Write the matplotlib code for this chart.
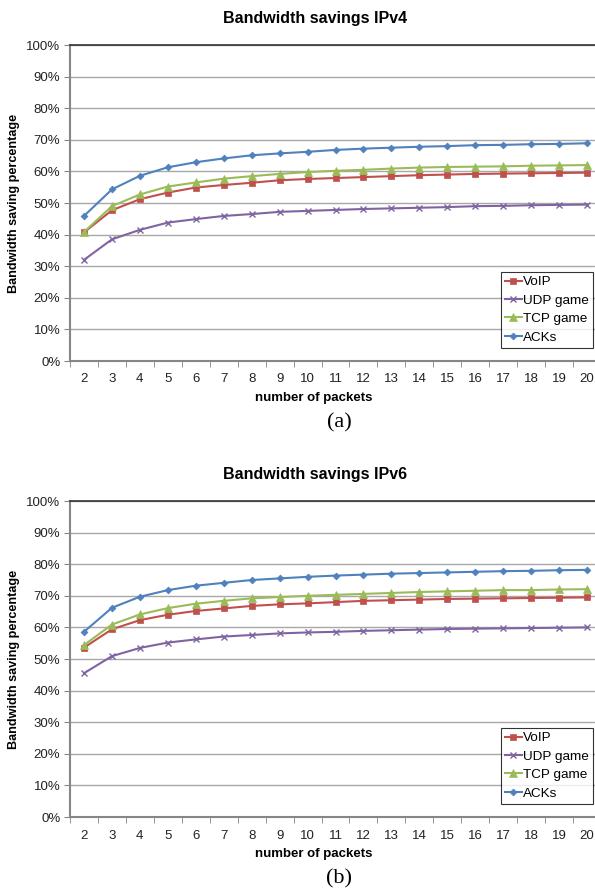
import matplotlib
matplotlib.use("Agg")
import matplotlib.pyplot as plt
from matplotlib.ticker import MultipleLocator, FixedLocator, PercentFormatter

packets = list(range(2, 21))

# IPv4 savings (%)
voip_v4 = [40.7, 47.7, 51.2, 53.3, 54.9, 55.7, 56.4, 57.2, 57.6, 57.9,
           58.2, 58.5, 58.8, 59.0, 59.2, 59.3, 59.4, 59.5, 59.6]
udp_v4 = [32.0, 38.5, 41.5, 43.8, 44.9, 45.9, 46.5, 47.2, 47.5, 47.8,
          48.1, 48.3, 48.5, 48.7, 49.0, 49.1, 49.3, 49.4, 49.5]
tcp_v4 = [40.8, 49.0, 52.7, 55.2, 56.5, 57.7, 58.5, 59.2, 59.8, 60.2,
          60.5, 60.9, 61.2, 61.4, 61.5, 61.6, 61.8, 61.9, 62.0]
acks_v4 = [45.9, 54.3, 58.6, 61.3, 62.9, 64.1, 65.1, 65.7, 66.2, 66.8,
           67.2, 67.5, 67.8, 68.0, 68.3, 68.4, 68.6, 68.7, 68.9]

# IPv6 savings (%)
voip_v6 = [53.6, 59.4, 62.3, 64.0, 65.2, 66.0, 66.8, 67.3, 67.6, 68.0,
           68.4, 68.6, 68.8, 69.0, 69.1, 69.2, 69.3, 69.4, 69.5]
udp_v6 = [45.5, 50.9, 53.5, 55.2, 56.2, 57.1, 57.6, 58.1, 58.4, 58.6,
          58.9, 59.1, 59.3, 59.5, 59.6, 59.7, 59.8, 59.9, 60.0]
tcp_v6 = [54.4, 60.9, 64.1, 66.1, 67.5, 68.4, 69.2, 69.6, 70.0, 70.3,
          70.6, 70.9, 71.2, 71.4, 71.6, 71.8, 71.8, 72.0, 72.1]
acks_v6 = [58.6, 66.2, 69.7, 71.8, 73.2, 74.1, 75.0, 75.5, 76.0, 76.4,
           76.7, 77.0, 77.2, 77.4, 77.6, 77.8, 77.9, 78.1, 78.2]

series_names = ["VoIP", "UDP game", "TCP game", "ACKs"]
colors = ["#C0504D", "#8064A2", "#9BBB59", "#4F81BD"]
markers = ["s", "x", "^", "D"]
msizes = [5, 5, 5.5, 3.5]

plt.rcParams["font.family"] = ["Liberation Sans", "DejaVu Sans"]

W, H = 595, 888
fig = plt.figure(figsize=(W / 100, H / 100), dpi=100)


def fx(px):
    return px / W


def fy(py):
    return 1 - py / H


def draw_panel(top_px, data, title, caption, legend_top):
    left, right = 70, 601
    bottom = top_px + 316
    ax = fig.add_axes([fx(left), fy(bottom), (right - left) / W, 316 / H])
    for vals, name, c, m, s in zip(data, series_names, colors, markers, msizes):
        ax.plot(packets, vals, color=c, marker=m, markersize=s, lw=1.5,
                label=name, markeredgewidth=1 if m == "x" else 0.5,
                markeredgecolor=c)
    ax.set_xlim(1.5, 20.5)
    ax.set_ylim(0, 100)
    ax.yaxis.set_major_locator(MultipleLocator(10))
    ax.yaxis.set_major_formatter(PercentFormatter(decimals=0))
    ax.set_xticks(packets)
    ax.xaxis.set_minor_locator(FixedLocator([p + 0.5 for p in [1] + packets]))
    ax.tick_params(axis="x", which="major", length=0, pad=9, labelsize=9.5,
                   colors="#222222")
    ax.tick_params(axis="x", which="minor", length=4, color="#868686",
                   direction="out")
    ax.tick_params(axis="y", length=4, color="#868686", labelsize=9.5,
                   labelcolor="#222222", pad=3)
    ax.grid(axis="y", color="#a8a8a8", lw=1)
    ax.set_axisbelow(True)
    for side in ["left", "bottom"]:
        ax.spines[side].set_color("#868686")
        ax.spines[side].set_linewidth(1.5)
    ax.spines["top"].set_color("#333333")
    ax.spines["top"].set_linewidth(1.2)
    ax.spines["right"].set_visible(False)

    fig.text(fx(315), fy(top_px - 27), title, ha="center", va="center",
             fontsize=11.5, fontweight="bold")
    fig.text(fx(314), fy(bottom + 37), "number of packets", ha="center",
             va="center", fontsize=9.5, fontweight="bold")
    fig.text(fx(14.5), fy(top_px + 158), "Bandwidth saving percentage",
             ha="center", va="center", rotation=90, fontsize=9.1,
             fontweight="bold")
    fig.text(fx(339), fy(bottom + 62), caption, ha="center", va="center",
             fontsize=16, family=["Liberation Serif", "DejaVu Serif"])

    leg = ax.legend(loc="upper left",
                    bbox_to_anchor=(fx(501), fy(legend_top)),
                    bbox_transform=fig.transFigure,
                    fontsize=9.7, frameon=True, fancybox=False,
                    edgecolor="black", handlelength=1.25, handletextpad=0.1,
                    borderpad=0.3, labelspacing=0.44, borderaxespad=0)
    leg.get_frame().set_linewidth(0.8)
    return ax


draw_panel(45, [voip_v4, udp_v4, tcp_v4, acks_v4],
           "Bandwidth savings IPv4", "(a)", 272)
draw_panel(501, [voip_v6, udp_v6, tcp_v6, acks_v6],
           "Bandwidth savings IPv6", "(b)", 728)

fig.savefig("out.png", dpi=100)
